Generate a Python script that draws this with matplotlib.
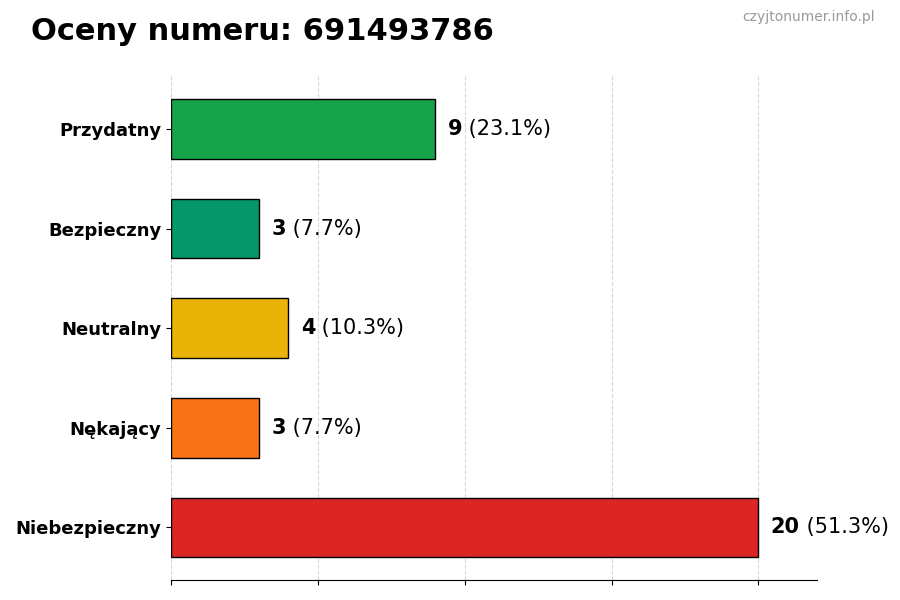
import matplotlib.pyplot as plt

# Data
categories = ['Przydatny', 'Bezpieczny', 'Neutralny', 'Nękający', 'Niebezpieczny']
counts = [9, 3, 4, 3, 20]
percents = [23.1, 7.7, 10.3, 7.7, 51.3]
colors = ['#16a34a', '#059669', '#eab308', '#f97316', '#dc2626']

fig, ax = plt.subplots(figsize=(9, 6), dpi=100)
fig.subplots_adjust(left=0.19, right=0.908, top=0.873, bottom=0.033)

ypos = list(range(len(categories)))[::-1]
ax.barh(ypos, counts, height=0.6, color=colors, edgecolor='black', linewidth=1, zorder=3)
ax.set_yticks(ypos)
ax.set_yticklabels(categories, fontsize=13, fontweight='bold')
ax.set_xlim(0, 22)
ax.set_xticks([0, 5, 10, 15, 20])
ax.set_xticklabels([])
ax.grid(axis='x', linestyle='--', color='#cccccc', alpha=0.8, zorder=0)

for s in ['top', 'right', 'left']:
    ax.spines[s].set_visible(False)

# value labels
for y, c, p in zip(ypos, counts, percents):
    t = ax.text(c + 0.42, y, str(c), va='center', ha='left', fontsize=15, fontweight='bold')
    ax.annotate(f' ({p}%)', xycoords=t, xy=(1, 0.5), va='center', ha='left', fontsize=15)

fig.text(0.034, 0.948, 'Oceny numeru: 691493786', fontsize=22, fontweight='bold', va='center')
fig.text(0.972, 0.971, 'czyjtonumer.info.pl', fontsize=10, color='#999999', ha='right', va='center')

plt.savefig('out.png')
